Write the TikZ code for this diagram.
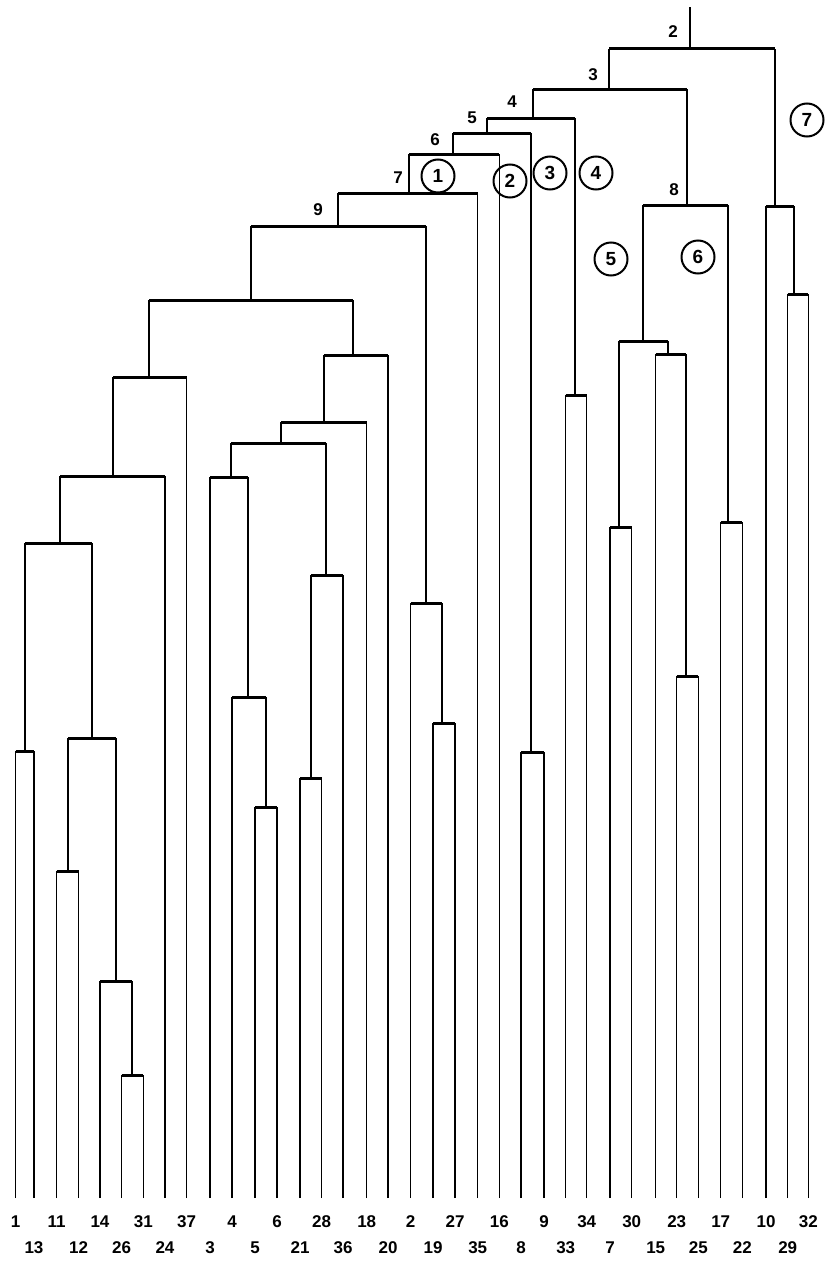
\documentclass[tikz,border=0pt]{standalone}
\usepackage{fontspec}
\setmainfont{Liberation Sans}
\newcommand\mergeat[5]{%
  \coordinate (#1) at (#2,#3);
  \draw[stem] (#4) -- (#4 |- #1);
  \draw[stem] (#5) -- (#5 |- #1);
  \draw[bar] (#4 |- #1) -- (#5 |- #1);
}
\begin{document}
\begin{tikzpicture}[x=1pt,y=-1pt,
  bar/.style={line width=3pt},
  stem/.style={line width=1.1pt},
  lab/.style={font=\fontsize{17}{17}\selectfont\bfseries, inner sep=0pt},
  circ/.style={draw, circle, line width=2pt, minimum size=33pt, inner sep=0pt, font=\fontsize{19}{19}\selectfont\bfseries}]
\useasboundingbox[fill=white] (0,0) rectangle (827,1263);
% leaves: top row of labels
\foreach \n/\x in {1/15.7,11/56.7,14/100,31/143.3,37/186.7,4/232,6/277,28/321.7,18/366.7,2/410.7,27/455,16/499.3,9/544,34/586.7,30/631.7,23/676.7,17/720.7,10/766,32/808.3}{
  \coordinate (l\n) at (\x,1198);
  \node[lab] (t\n) at (\x,1222) {\n};
}
% leaves: bottom row of labels
\foreach \n/\x in {13/34,12/78.7,26/121.7,24/165,3/210,5/255,21/300,36/343,20/388,19/433,35/477.7,8/521,33/565.7,7/610,15/655.7,25/698.3,22/742.3,29/787.7}{
  \coordinate (l\n) at (\x,1198);
  \node[lab] (t\n) at (\x,1248) {\n};
}
% left group
\mergeat{m1}{25}{751}{l1}{l13}
\mergeat{m11}{68}{871}{l11}{l12}
\mergeat{m26}{132}{1075}{l26}{l31}
\mergeat{m14}{116}{981}{l14}{m26}
\mergeat{mA1}{92}{738}{m11}{m14}
\mergeat{mA2}{60}{543}{m1}{mA1}
\mergeat{mA3}{113}{476}{mA2}{l24}
\mergeat{mA4}{149}{377}{mA3}{l37}
% middle group
\mergeat{m5}{266}{807}{l5}{l6}
\mergeat{m4}{248}{697}{l4}{m5}
\mergeat{m3}{231}{477}{l3}{m4}
\mergeat{m21}{311}{778}{l21}{l28}
\mergeat{m36}{326}{575}{m21}{l36}
\mergeat{mB1}{281}{443}{m3}{m36}
\mergeat{mB2}{324}{422}{mB1}{l18}
\mergeat{mB3}{353}{355}{mB2}{l20}
\mergeat{mAB}{251}{300}{mA4}{mB3}
\mergeat{m19}{442}{723}{l19}{l27}
\mergeat{m2}{426}{603}{l2}{m19}
\mergeat{mB}{338}{226}{mAB}{m2}
\mergeat{mA}{409}{193}{mB}{l35}
\mergeat{mC}{453}{154}{mA}{l16}
\mergeat{m8}{531}{752}{l8}{l9}
\mergeat{mD}{487}{133}{mC}{m8}
\mergeat{m33}{575}{395}{l33}{l34}
\mergeat{mE}{533}{118}{mD}{m33}
% right group
\mergeat{m7}{619}{527}{l7}{l30}
\mergeat{m23}{686}{676}{l23}{l25}
\mergeat{m15}{668}{354}{l15}{m23}
\mergeat{m8a}{643}{341}{m7}{m15}
\mergeat{m17}{728}{522}{l17}{l22}
\mergeat{mG8}{687}{205}{m8a}{m17}
\mergeat{mF}{609}{89}{mE}{mG8}
\mergeat{m29}{794}{294}{l29}{l32}
\mergeat{m10}{775}{206}{l10}{m29}
\mergeat{root}{690}{49}{mF}{m10}
\coordinate (top) at (690,7);
\draw[stem] (root) -- (top);
% level labels
\node[lab] (v2) at (673,32) {2};
\node[lab] (v3) at (593,75) {3};
\node[lab] (v4) at (512,102) {4};
\node[lab] (v5) at (472,118) {5};
\node[lab] (v6) at (435,140) {6};
\node[lab] (v7) at (398,178) {7};
\node[lab] (v8) at (674,190) {8};
\node[lab] (v9) at (318,210) {9};
% circled group numbers
\node[circ] (c1) at (438,176) {1};
\node[circ] (c2) at (510,181) {2};
\node[circ] (c3) at (550,173) {3};
\node[circ] (c4) at (596,173) {4};
\node[circ] (c5) at (611,259) {5};
\node[circ] (c6) at (698,257) {6};
\node[circ] (c7) at (807,120) {7};
\end{tikzpicture}
\end{document}
